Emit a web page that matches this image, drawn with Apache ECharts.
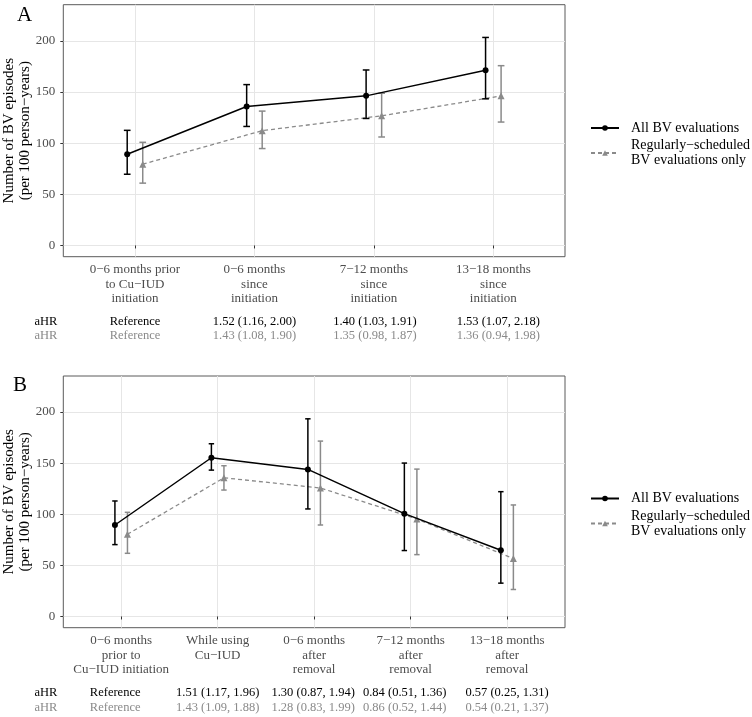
<!DOCTYPE html>
<html><head><meta charset="utf-8">
<script src="https://cdn.jsdelivr.net/npm/echarts@6/dist/echarts.min.js"></script>
<style>html,body{margin:0;padding:0;background:#fff}#c{width:752px;height:717px}</style>
</head><body><div id="c"></div>
<script>
// ---- data ----
const catsA = ['0\u22126 months prior\nto Cu\u2212IUD\ninitiation', '0\u22126 months\nsince\ninitiation', '7\u221212 months\nsince\ninitiation', '13\u221218 months\nsince\ninitiation'];
const catsB = ['0\u22126 months\nprior to\nCu\u2212IUD initiation', 'While using\nCu\u2212IUD', '0\u22126 months\nafter\nremoval', '7\u221212 months\nafter\nremoval', '13\u221218 months\nafter\nremoval'];
const allA    = [89.1, 135.8, 146.2, 171.2];
const allA_lo = [69.6, 116.3, 124.1, 143.3];
const allA_hi = [112.5, 157.2, 171.5, 203.3];
const regA    = [79.4, 112.2, 126.7, 146.2];
const regA_lo = [60.9, 94.7, 106.0, 120.6];
const regA_hi = [100.8, 131.3, 148.8, 175.7];
const allB    = [89.5, 155.3, 143.9, 100.6, 64.8];
const allB_lo = [70.3, 143.2, 105.2, 64.5, 32.6];
const allB_hi = [113.0, 169.0, 193.4, 150.1, 122.1];
const regB    = [80.4, 135.7, 125.7, 95.4, 56.6];
const regB_lo = [61.8, 123.7, 89.5, 60.5, 26.4];
const regB_hi = [101.9, 147.5, 171.6, 144.2, 109.1];
const yTicks = [0, 50, 100, 150, 200];
const ahrA_all = ['Reference', '1.52 (1.16, 2.00)', '1.40 (1.03, 1.91)', '1.53 (1.07, 2.18)'];
const ahrA_reg = ['Reference', '1.43 (1.08, 1.90)', '1.35 (0.98, 1.87)', '1.36 (0.94, 1.98)'];
const ahrB_all = ['Reference', '1.51 (1.17, 1.96)', '1.30 (0.87, 1.94)', '0.84 (0.51, 1.36)', '0.57 (0.25, 1.31)'];
const ahrB_reg = ['Reference', '1.43 (1.09, 1.88)', '1.28 (0.83, 1.99)', '0.86 (0.52, 1.44)', '0.54 (0.21, 1.37)'];
const nameAll = 'All BV evaluations';
const nameReg = 'Regularly\u2212scheduled BV evaluations only';
const yTitle = 'Number of BV episodes\n(per 100 person\u2212years)';

// ---- styling ----
const FONT = '"Liberation Serif", "DejaVu Serif", serif';
const BLACK = '#000000';
const GREY = '#8a8a8a';
const DODGE = 0.065;
const CAP = 0.028;

const chart = echarts.init(document.getElementById('c'), null, {renderer: 'canvas'});

function xAxisFor(idx, cats) {
  const vals = cats.map((_, i) => i + 1);
  return {
    type: 'value', gridIndex: idx, min: 0.4, max: cats.length + 0.6,
    axisLine: {show: false},
    axisTick: {show: true, customValues: vals, length: 3, lineStyle: {color: '#333', width: 1}},
    axisLabel: {customValues: vals, formatter: v => cats[Math.round(v) - 1] || '', margin: 6,
      color: '#4d4d4d', fontFamily: FONT, fontSize: 13, lineHeight: 14.5},
    splitLine: {show: true, lineStyle: {color: '#e6e6e6', width: 1}}
  };
}
function yAxisFor(idx) {
  return {
    type: 'value', gridIndex: idx, min: -11, max: 235.3,
    axisLine: {show: false},
    axisTick: {show: true, customValues: yTicks, length: 3, lineStyle: {color: '#333', width: 1}},
    axisLabel: {customValues: yTicks, margin: 8, color: '#4d4d4d', fontFamily: FONT, fontSize: 13},
    splitLine: {show: true, lineStyle: {color: '#e6e6e6', width: 1}},
    name: yTitle, nameLocation: 'middle', nameRotate: 90, nameGap: 30, nameMoveOverlap: false,
    nameTextStyle: {color: BLACK, fontFamily: FONT, fontSize: 15, lineHeight: 16}
  };
}
function pts(vals, off) { return vals.map((v, i) => [i + 1 + off, v]); }
function errs(lo, hi, off) { return lo.map((l, i) => [i + 1 + off, l, hi[i]]); }
function errRender(params, api) {
  const x = api.value(0), lo = api.value(1), hi = api.value(2);
  const a = api.coord([x, lo]), b = api.coord([x, hi]);
  const tl = api.coord([x - CAP, hi]), tr = api.coord([x + CAP, hi]);
  const bl = api.coord([x - CAP, lo]), br = api.coord([x + CAP, lo]);
  const style = {stroke: api.visual('color'), lineWidth: 1.5};
  return {type: 'group', children: [
    {type: 'line', shape: {x1: a[0], y1: a[1], x2: b[0], y2: b[1]}, style},
    {type: 'line', shape: {x1: tl[0], y1: tl[1], x2: tr[0], y2: tr[1]}, style},
    {type: 'line', shape: {x1: bl[0], y1: bl[1], x2: br[0], y2: br[1]}, style}
  ]};
}
function panelSeries(idx, all, allLo, allHi, reg, regLo, regHi) {
  return [
    {type: 'line', name: nameReg, xAxisIndex: idx, yAxisIndex: idx, data: pts(reg, DODGE),
     symbol: 'triangle', symbolSize: 7, color: GREY, itemStyle: {color: GREY},
     lineStyle: {color: GREY, width: 1.3, type: [4, 3]}, z: 2, animation: false},
    {type: 'custom', name: 'errReg' + idx, xAxisIndex: idx, yAxisIndex: idx, data: errs(regLo, regHi, DODGE),
     renderItem: errRender, itemStyle: {color: GREY}, z: 2, animation: false},
    {type: 'line', name: nameAll, xAxisIndex: idx, yAxisIndex: idx, data: pts(all, -DODGE),
     symbol: 'circle', symbolSize: 6, color: BLACK, itemStyle: {color: BLACK},
     lineStyle: {color: BLACK, width: 1.5}, z: 3, animation: false},
    {type: 'custom', name: 'errAll' + idx, xAxisIndex: idx, yAxisIndex: idx, data: errs(allLo, allHi, -DODGE),
     renderItem: errRender, itemStyle: {color: BLACK}, z: 3, animation: false}
  ];
}
function legendAt(top) {
  return {
    left: 590, top: top, padding: 0, orient: 'vertical', itemGap: 2.5, itemWidth: 28, itemHeight: 7,
    selectedMode: false, data: [nameAll, nameReg],
    formatter: n => n === nameReg ? 'Regularly\u2212scheduled\nBV evaluations only' : n,
    textStyle: {color: BLACK, fontFamily: FONT, fontSize: 14, lineHeight: 15, padding: [0, 0, 0, 7]}
  };
}

const option = {
  backgroundColor: '#ffffff',
  animation: false,
  title: [
    {text: 'A', left: 12, top: 0, textStyle: {fontFamily: FONT, fontWeight: 'normal', fontSize: 21, color: BLACK}},
    {text: 'B', left: 8, top: 370, textStyle: {fontFamily: FONT, fontWeight: 'normal', fontSize: 21, color: BLACK}}
  ],
  grid: [
    {left: 63.3, top: 4.7, width: 501.7, height: 252, outerBoundsMode: 'none', containLabel: false,
     show: true, borderColor: '#5a5a5a', borderWidth: 1, backgroundColor: 'transparent'},
    {left: 63.3, top: 376, width: 501.7, height: 251.7, outerBoundsMode: 'none', containLabel: false,
     show: true, borderColor: '#5a5a5a', borderWidth: 1, backgroundColor: 'transparent'}
  ],
  xAxis: [xAxisFor(0, catsA), xAxisFor(1, catsB)],
  yAxis: [yAxisFor(0), yAxisFor(1)],
  legend: [legendAt(120.5), legendAt(491)],
  series: [].concat(
    panelSeries(0, allA, allA_lo, allA_hi, regA, regA_lo, regA_hi),
    panelSeries(1, allB, allB_lo, allB_hi, regB, regB_lo, regB_hi)
  )
};
chart.setOption(option);

// aHR table rows, placed under each category through the axis scale
function tableRows(idx, rowAll, rowReg, yAll, yReg, nudge) {
  const els = [];
  const mk = (txt, x, y, col) => ({type: 'text', x: x, y: y, silent: true,
    style: {text: txt, fill: col, font: '12.5px ' + FONT, textAlign: 'center', textVerticalAlign: 'middle'}});
  els.push(mk('aHR', 46, yAll, BLACK));
  els.push(mk('aHR', 46, yReg, GREY));
  rowAll.forEach((t, i) => {
    const px = chart.convertToPixel({gridIndex: idx}, [i + 1, 0])[0] + (nudge[i] || 0);
    els.push(mk(t, px, yAll, BLACK));
    els.push(mk(rowReg[i], px, yReg, GREY));
  });
  return els;
}
chart.setOption({graphic: {elements: [].concat(
  tableRows(0, ahrA_all, ahrA_reg, 321.5, 335.5, [0, 0, 1, 5]),
  tableRows(1, ahrB_all, ahrB_reg, 692.5, 708, [-6, 0, -1, -6, 0])
)}});
</script>
</body></html>
